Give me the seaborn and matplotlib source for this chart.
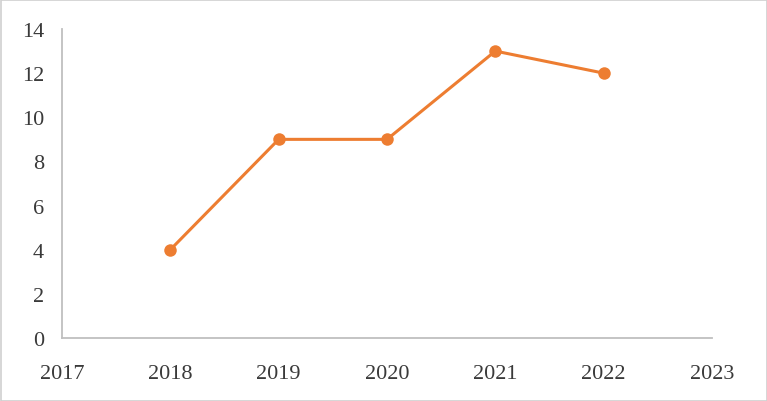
import matplotlib
matplotlib.use("Agg")
import matplotlib.pyplot as plt
import seaborn as sns
import pandas as pd

years = [2018, 2019, 2020, 2021, 2022]
values = [4, 9, 9, 13, 12]
x_ticks = [2017, 2018, 2019, 2020, 2021, 2022, 2023]
y_ticks = [0, 2, 4, 6, 8, 10, 12, 14]

sns.set_style("white")
plt.rcParams['font.family'] = ['Liberation Serif', 'DejaVu Serif']

df = pd.DataFrame({"year": years, "value": values})

fig = plt.figure(figsize=(7.67, 4.02), dpi=100)
ax = fig.add_axes([62/767, 1-339/402, 650/767, 309/402])

sns.lineplot(data=df, x="year", y="value", ax=ax, color="#ED7D31",
             linewidth=2.2, marker="o", markersize=9, markeredgewidth=0,
             markerfacecolor="#ED7D31")

ax.set_xlim(2017, 2023)
ax.set_ylim(0, 14)
ax.set_xticks(x_ticks)
ax.set_xticklabels([str(t) for t in x_ticks])
ax.set_yticks(y_ticks)
ax.set_xlabel("")
ax.set_ylabel("")
ax.tick_params(axis='x', length=0, pad=18.5, labelsize=16, labelcolor="#3A3A3A")
ax.tick_params(axis='y', length=0, pad=13, labelsize=16, labelcolor="#3A3A3A")
for s in ["top", "right"]:
    ax.spines[s].set_visible(False)
for s in ["left", "bottom"]:
    ax.spines[s].set_color("#BFBFBF")
    ax.spines[s].set_linewidth(1.3)
ax.grid(False)

border = plt.Rectangle((0.5/767, 0.5/402), 1-1/767, 1-1/402, transform=fig.transFigure,
                       fill=False, edgecolor="#D0D0D0", linewidth=1.2)
fig.patches.append(border)

fig.savefig("out.png", dpi=100)
